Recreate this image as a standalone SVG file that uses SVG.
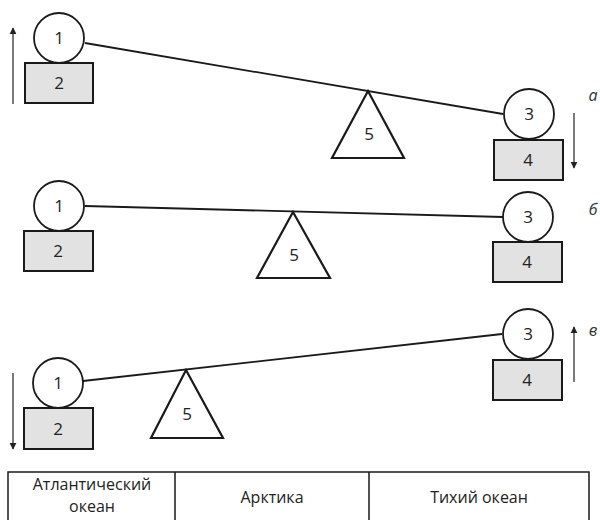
<svg xmlns="http://www.w3.org/2000/svg" width="600" height="520" viewBox="0 0 600 520">
<style>
.c{fill:#fff;stroke:#1a1a1a;stroke-width:1.8}
.r{fill:#e2e2e2;stroke:#1a1a1a;stroke-width:2}
.t{fill:#fff;stroke:#1a1a1a;stroke-width:2.2;stroke-linejoin:miter}
.beam{stroke:#1a1a1a;stroke-width:1.8;fill:none}
.arr{stroke:#222;stroke-width:1.2;fill:none;marker-end:url(#ah)}
.n{font-family:"Open Sans","DejaVu Sans",sans-serif;font-size:17px;fill:#222;text-anchor:middle}
.l{font-family:"Open Sans","DejaVu Sans",sans-serif;font-size:16px;font-style:italic;fill:#333;text-anchor:middle}
.tb{font-family:"Open Sans","DejaVu Sans",sans-serif;font-size:16px;fill:#222;text-anchor:middle}
.g{stroke:#1a1a1a;stroke-width:1.5;fill:none}
</style>
<defs>
<marker id="ah" viewBox="0 0 10 10" refX="9" refY="5" markerWidth="7" markerHeight="8" markerUnits="userSpaceOnUse" orient="auto">
<path d="M0,0 L10,5 L0,10 z" fill="#222"/>
</marker>
</defs>

<g id="connectors">
<line class="beam" x1="85" y1="43" x2="503" y2="114"/>
<line class="beam" x1="85" y1="206" x2="503" y2="217"/>
<line class="beam" x1="83" y1="381" x2="502" y2="334"/>
<line class="arr" x1="13" y1="104" x2="13" y2="28"/>
<line class="arr" x1="574" y1="113" x2="574" y2="168"/>
<line class="arr" x1="13" y1="373" x2="13" y2="449"/>
<line class="arr" x1="574" y1="382" x2="574" y2="327"/>
</g>

<!-- panel a -->
<g id="a-2"><rect class="r" x="25" y="63" width="68" height="40"/><text class="n" x="59" y="89">2</text></g>
<g id="a-1"><circle class="c" cx="59" cy="38" r="25"/><text class="n" x="59" y="44">1</text></g>
<g id="a-5"><polygon class="t" points="368,91 404,158 332,158"/><text class="n" x="369" y="140">5</text></g>
<g id="a-4"><rect class="r" x="494" y="140" width="69" height="40"/><text class="n" x="528" y="166">4</text></g>
<g id="a-3"><circle class="c" cx="529" cy="114" r="25"/><text class="n" x="529" y="120">3</text></g>
<g id="label-a"><text class="l" x="593" y="101">а</text></g>

<!-- panel b -->
<g id="b-2"><rect class="r" x="24" y="231" width="69" height="40"/><text class="n" x="58" y="257">2</text></g>
<g id="b-1"><circle class="c" cx="59" cy="206" r="25"/><text class="n" x="59" y="212">1</text></g>
<g id="b-5"><polygon class="t" points="293,212 330,278 257,278"/><text class="n" x="294" y="261">5</text></g>
<g id="b-4"><rect class="r" x="493" y="242" width="69" height="40"/><text class="n" x="527" y="268">4</text></g>
<g id="b-3"><circle class="c" cx="528" cy="217" r="25"/><text class="n" x="528" y="223">3</text></g>
<g id="label-b"><text class="l" x="593" y="215">б</text></g>

<!-- panel v -->
<g id="v-2"><rect class="r" x="24" y="408" width="69" height="41"/><text class="n" x="58" y="435">2</text></g>
<g id="v-1"><circle class="c" cx="58" cy="383" r="25"/><text class="n" x="58" y="389">1</text></g>
<g id="v-5"><polygon class="t" points="186,370 223,438 151,438"/><text class="n" x="187" y="420">5</text></g>
<g id="v-4"><rect class="r" x="493" y="360" width="69" height="40"/><text class="n" x="527" y="386">4</text></g>
<g id="v-3"><circle class="c" cx="528" cy="334" r="25"/><text class="n" x="528" y="340">3</text></g>
<g id="label-v"><text class="l" x="593" y="336">в</text></g>

<!-- table -->
<g id="table">
<path class="g" d="M8,520 V472 H589 V520 M175,472 V520 M369,472 V520"/>
<text class="tb" x="92" y="490">Атлантический<tspan x="92" dy="22">океан</tspan></text>
<text class="tb" x="272" y="503">Арктика</text>
<text class="tb" x="479" y="503">Тихий океан</text>
</g>
</svg>
